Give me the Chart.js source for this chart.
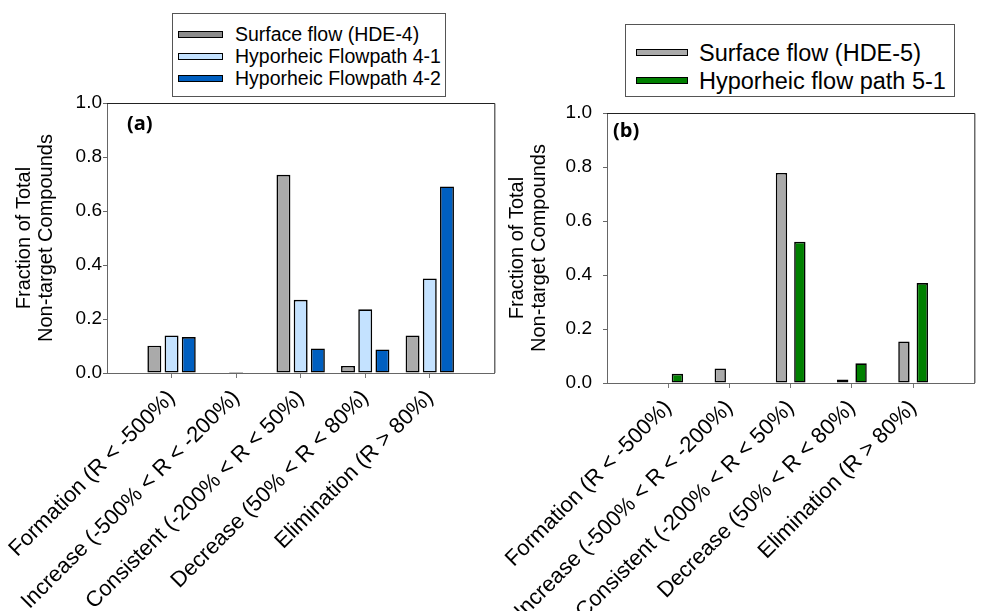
<!DOCTYPE html>
<html><head><meta charset="utf-8">
<script src="https://cdn.jsdelivr.net/npm/chart.js@4/dist/chart.umd.min.js"></script>
<style>
html,body{margin:0;padding:0;width:984px;height:611px;overflow:hidden;background:#fff;font-family:"Liberation Sans",Arial,sans-serif;}
canvas{position:absolute;top:0;}
#ca{left:0;}
#cb{left:500px;}
.legend{position:absolute;border:1px solid #555;background:#fff;box-sizing:border-box;}
.row{position:absolute;left:0;display:flex;align-items:center;white-space:nowrap;color:#000;}
.sw{position:absolute;box-sizing:border-box;border:1.5px solid #000;}
.panel{position:absolute;font:bold 20px "Open Sans",sans-serif;line-height:20px;color:#000;}
</style></head>
<body>
<canvas id="ca" width="520" height="611"></canvas>
<canvas id="cb" width="500" height="611"></canvas>
<div id="la" class="legend" style="left:172px;top:13px;width:274px;height:84px;"></div>
<div id="lb" class="legend" style="left:625px;top:24px;width:330px;height:73px;"></div>
<div class="panel" style="left:127px;top:113px;">(a)</div>
<div class="panel" style="left:613px;top:120px;">(b)</div>
<script>
// ---- data ----
const categories = ['Formation (R < -500%)', 'Increase (-500% < R < -200%)', 'Consistent (-200% < R < 50%)', 'Decrease (50% < R < 80%)', 'Elimination (R > 80%)'];
const yTickValues = [0, 0.2, 0.4, 0.6, 0.8, 1.0];
const yTitle = ['Fraction of Total', 'Non-target Compounds'];
const surfaceHDE4 = [0.101, 0, 0.734, 0.026, 0.139];
const hyporheic41 = [0.139, 0.004, 0.271, 0.236, 0.350];
const hyporheic42 = [0.133, 0, 0.091, 0.087, 0.691];
const surfaceHDE5 = [0.002, 0.054, 0.778, 0.013, 0.154];
const hyporheic51 = [0.034, 0, 0.523, 0.073, 0.370];

const FONT = '"Liberation Sans", Arial, sans-serif';
const toPts = arr => arr.map((v, i) => ({x: i + 1, y: v}));

const framePlugin = {
  id: 'frame',
  afterDraw(chart) {
    const {ctx, chartArea: a} = chart;
    ctx.save();
    ctx.strokeStyle = '#222';
    ctx.lineWidth = 1;
    ctx.beginPath();
    ctx.moveTo(a.left, a.top + 0.5);
    ctx.lineTo(a.right + 0.5, a.top + 0.5);
    ctx.lineTo(a.right + 0.5, a.bottom);
    ctx.stroke();
    ctx.restore();
  }
};

function makeChart(canvasId, datasets, cfg) {
  return new Chart(document.getElementById(canvasId), {
    type: 'bar',
    data: {
      datasets: datasets.map(d => ({
        label: d.label, data: toPts(d.values), backgroundColor: d.color,
        borderColor: '#000', borderWidth: 1.6, borderSkipped: false,
        categoryPercentage: cfg.cp, barPercentage: cfg.bp
      }))
    },
    options: {
      responsive: false, animation: false, devicePixelRatio: 1,
      layout: {padding: {top: cfg.top, left: 0, right: cfg.right, bottom: 0}},
      plugins: {legend: {display: false}, tooltip: {enabled: false}},
      scales: {
        x: {
          type: 'linear', min: 0, max: categories.length + 1, offset: false,
          grid: {offset: false, drawOnChartArea: false, tickLength: 5,
            color: c => (c.tick && c.tick.value >= 1 && c.tick.value <= categories.length) ? '#777' : 'rgba(0,0,0,0)'},
          border: {display: true, color: '#666', width: 1},
          ticks: {stepSize: 1, autoSkip: false, maxRotation: 45, minRotation: 45, padding: 7, color: '#000',
            font: {family: FONT, size: 22},
            callback: v => categories[v - 1] !== undefined ? categories[v - 1] : ''},
          afterFit: s => { s.height = cfg.xh; }
        },
        y: {
          min: 0, max: 1,
          afterBuildTicks: s => { s.ticks = yTickValues.map(v => ({value: v})); },
          grid: {drawOnChartArea: false, tickLength: 4, color: '#666'},
          border: {display: true, color: '#666', width: 1},
          ticks: {color: '#000', padding: cfg.ypad, font: {family: FONT, size: 19}, callback: v => v.toFixed(1)},
          title: {display: true, text: yTitle, color: '#000', font: {family: FONT, size: 20, lineHeight: 1.1},
            padding: {top: cfg.tpad, bottom: 0}},
          afterFit: s => { s.width = 107; }
        }
      }
    },
    plugins: [framePlugin]
  });
}

const dsA = [
  {label: 'Surface flow (HDE-4)', values: surfaceHDE4, color: '#aaaaaa'},
  {label: 'Hyporheic Flowpath 4-1', values: hyporheic41, color: '#c4e2ff'},
  {label: 'Hyporheic Flowpath 4-2', values: hyporheic42, color: '#005fc0'}
];
const dsB = [
  {label: 'Surface flow (HDE-5)', values: surfaceHDE5, color: '#aaaaaa'},
  {label: 'Hyporheic flow path 5-1', values: hyporheic51, color: '#008000'}
];

makeChart('ca', dsA, {top: 103, right: 23, xh: 611 - 373, cp: 0.8, bp: 0.81, ypad: 1, tpad: 13});
makeChart('cb', dsB, {top: 113, right: 7, xh: 611 - 383, cp: 0.6, bp: 0.62, ypad: 11, tpad: 6});

function makeLegend(id, datasets, o) {
  const box = document.getElementById(id);
  datasets.forEach((d, i) => {
    const row = document.createElement('div');
    row.className = 'row';
    row.style.top = (o.first + i * o.step - o.lh / 2) + 'px';
    row.style.height = o.lh + 'px';
    row.style.width = '100%';
    const sw = document.createElement('span');
    sw.className = 'sw';
    sw.style.left = o.swl + 'px'; sw.style.width = o.sww + 'px'; sw.style.height = '7px';
    sw.style.top = (o.lh / 2 - 3.5) + 'px';
    sw.style.background = o.swColors ? o.swColors[i] : d.color;
    const tx = document.createElement('span');
    tx.textContent = d.label;
    tx.style.position = 'absolute'; tx.style.left = o.txl + 'px';
    tx.style.font = o.size + 'px ' + FONT; tx.style.lineHeight = o.lh + 'px';
    row.appendChild(sw); row.appendChild(tx);
    box.appendChild(row);
  });
}
makeLegend('la', dsA, {first: 20, step: 22, lh: 22, swl: 5, sww: 45, txl: 62, size: 19.5, swColors: ['#8c8c8c', '#c4e2ff', '#005fc0']});
makeLegend('lb', dsB, {first: 27.5, step: 28.3, lh: 28, swl: 10, sww: 52, txl: 73, size: 23.5});
</script>
</body></html>
